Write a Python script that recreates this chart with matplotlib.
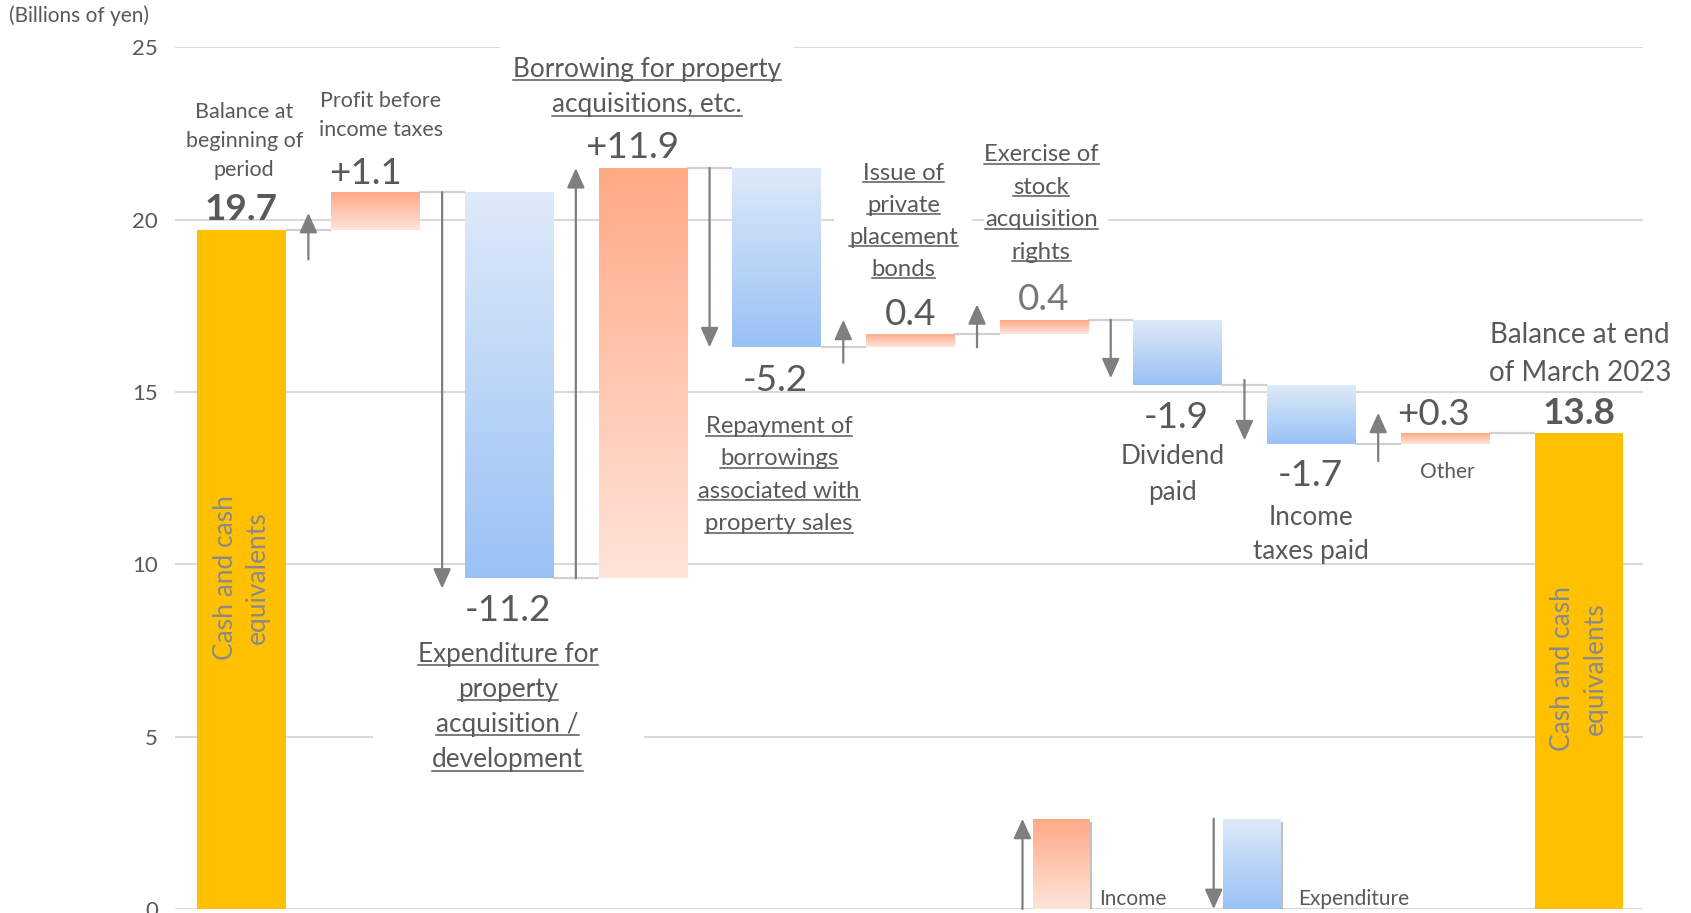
import numpy as np
import matplotlib
matplotlib.use('Agg')
import matplotlib.pyplot as plt
from matplotlib.colors import LinearSegmentedColormap
from matplotlib.patches import Rectangle
from matplotlib.lines import Line2D
import matplotlib.patheffects as pe

plt.rcParams['font.family'] = ['Lato', 'DejaVu Sans']

# --- data (billions of yen) ---
categories = ['Balance at\nbeginning of\nperiod',
              'Profit before\nincome taxes',
              'Expenditure for\nproperty\nacquisition /\ndevelopment',
              'Borrowing for property\nacquisitions, etc.',
              'Repayment of\nborrowings\nassociated with\nproperty sales',
              'Issue of\nprivate\nplacement\nbonds',
              'Exercise of\nstock\nacquisition\nrights',
              'Dividend\npaid',
              'Income\ntaxes paid',
              'Other',
              'Balance at end\nof March 2023']
changes = [19.7, 1.1, -11.2, 11.9, -5.2, 0.4, 0.4, -1.9, -1.7, 0.3, 13.8]
value_labels = ['19.7', '+1.1', '-11.2', '+11.9', '-5.2', '0.4', '0.4',
                '-1.9', '-1.7', '+0.3', '13.8']
is_total = [True, False, False, False, False, False, False, False, False, False, True]
underlined = [False, False, True, True, True, True, True, False, False, False, False]
# hand-drawn arrows between the bars (start level, end level)
arrow_start = [18.85, 20.8, 9.6, 21.5, 15.85, 16.3, 17.1, 15.35, 13.0]
arrow_end = [20.2, 9.3, 21.5, 16.3, 17.1, 17.55, 15.4, 13.6, 14.4]
y_ticks = [0, 5, 10, 15, 20, 25]
total_note = 'Cash and cash\nequivalents'
legend_names = ['Income', 'Expenditure']

# --- layout ---
value_pos = [(0.0, 20.38), (0.93, 21.44), (1.99, 8.75), (2.92, 22.19), (3.99, 15.41),
             (5.0, 17.34), (6.0, 17.78), (6.99, 14.34), (7.99, 12.66), (8.91, 14.44),
             (10.0, 14.47)]
label_pos = [(0.02, 23.19), (1.04, 23.5), (1.99, 7.47), (3.03, 24.44), (4.02, 14.06),
             (4.95, 21.41), (5.98, 21.94), (6.96, 13.19), (8.0, 11.44), (9.02, 12.75),
             (10.01, 16.72)]
label_step = [0.84, 0.84, 1.02, 1.03, 0.94, 0.93, 0.94, 1.03, 1.0, 1.0, 1.09]
label_size = [15.5, 15.5, 18.8, 18.8, 17.2, 17.2, 17.2, 18.8, 18.8, 15, 20]
# white boxes of the text frames that hide the gridlines
masks = [(0.98, 3.01, 3.6, 7.9), (1.93, 4.13, 23.0, 25.6),
         (4.43, 5.46, 18.3, 21.9), (5.55, 6.48, 18.7, 22.4)]
note_pos = [(0.0, 9.63), (10.0, 6.97)]

TEXT = '#595959'
ARROW = '#7f7f7f'
YELLOW = '#ffc000'
ORANGE = ('#ffe4da', '#ffa985')   # bottom, top
BLUE = ('#99c1f5', '#deeaf9')
W = 0.66

fig = plt.figure(figsize=(16.91, 9.13), dpi=100)
ax = fig.add_axes([0.1033, 0.0043, 0.8686, 0.9437])


def gradient_bar(x, bottom, height, colors, width=W, z=3):
    bar = ax.bar(x, height, width, bottom=bottom, color='none', edgecolor='none', zorder=z)[0]
    cmap = LinearSegmentedColormap.from_list('g', list(colors))
    grad = np.linspace(0, 1, 256).reshape(-1, 1)
    im = ax.imshow(grad, cmap=cmap, origin='lower', aspect='auto', zorder=z,
                   extent=[bar.get_x(), bar.get_x() + bar.get_width(),
                           bar.get_y(), bar.get_y() + bar.get_height()])
    im.set_clip_path(bar)
    return bar


x = np.arange(len(changes))
level = 0.0
ends = []
for i, (c, tot) in enumerate(zip(changes, is_total)):
    if tot:
        ax.bar(x[i], c, W, color=YELLOW, zorder=3)
        level = c
    else:
        start = level
        level = start + c
        if c > 0:
            gradient_bar(x[i], start, c, ORANGE)
        else:
            gradient_bar(x[i], level, -c, BLUE)
    ends.append(level)

# connectors
for i in range(len(changes) - 1):
    ax.plot([x[i] + W / 2, x[i + 1] - W / 2], [ends[i], ends[i]],
            color='#d0d0d0', lw=1.6, zorder=2, solid_capstyle='butt')

# arrows
for i, (a, b) in enumerate(zip(arrow_start, arrow_end)):
    ax.annotate('', xy=(x[i] + 0.5, b), xytext=(x[i] + 0.5, a),
                arrowprops=dict(arrowstyle='-|>,head_length=0.6,head_width=0.27',
                                mutation_scale=20, color=ARROW, lw=1.6,
                                shrinkA=0, shrinkB=0), zorder=4)

for x0, x1, y0, y1 in masks:
    ax.add_patch(Rectangle((x0, y0), x1 - x0, y1 - y0, color='white', zorder=0.8, lw=0))

# value labels
for i, (txt, (px, py)) in enumerate(zip(value_labels, value_pos)):
    col = '#787878' if i == 6 else TEXT
    ax.text(px, py, txt, ha='center', va='center_baseline', fontsize=26.6,
            color=col, fontweight='bold' if is_total[i] else 'normal', zorder=5)

# category labels (one text per line so that underlines can follow each line)
to_underline = []
for i, name in enumerate(categories):
    px, py = label_pos[i]
    for k, line in enumerate(name.split('\n')):
        t = ax.text(px, py - k * label_step[i], line, ha='center', va='center_baseline',
                    fontsize=label_size[i], color=TEXT, zorder=5)
        if underlined[i]:
            to_underline.append(t)

for px, py in note_pos:
    ax.text(px, py, total_note, rotation=90, ha='center', va='center', ma='center',
            fontsize=19, color='#8a8a8a', linespacing=1.37, zorder=5)

# legend
gradient_bar(6.13, 0, 2.62, ORANGE, width=0.42)
gradient_bar(7.555, 0, 2.62, BLUE, width=0.43)
for bx, bw in [(6.13, 0.42), (7.555, 0.43)]:
    ax.add_patch(Rectangle((bx - bw / 2, 0), bw, 2.62, facecolor='white', lw=0, zorder=2.5,
                           path_effects=[pe.SimplePatchShadow(offset=(2, -2), alpha=0.35),
                                         pe.Normal()]))
ax.annotate('', xy=(5.84, 2.62), xytext=(5.84, 0),
            arrowprops=dict(arrowstyle='-|>,head_length=0.6,head_width=0.27',
                            mutation_scale=20, color=ARROW, lw=1.6, shrinkA=0, shrinkB=0),
            zorder=4, annotation_clip=False)
ax.annotate('', xy=(7.27, 0), xytext=(7.27, 2.62),
            arrowprops=dict(arrowstyle='-|>,head_length=0.6,head_width=0.27',
                            mutation_scale=20, color=ARROW, lw=1.6, shrinkA=0, shrinkB=0),
            zorder=4, annotation_clip=False)
ax.text(6.41, 0.36, legend_names[0], ha='left', va='center_baseline', fontsize=15, color=TEXT)
ax.text(7.90, 0.36, legend_names[1], ha='left', va='center_baseline', fontsize=15, color=TEXT)

# axes styling
ax.set_xlim(-0.5, 10.484)
ax.set_ylim(0, 25)
ax.set_yticks(y_ticks)
ax.set_xticks([])
ax.tick_params(axis='y', length=0, pad=12, labelsize=16, labelcolor=TEXT)
for s in ax.spines.values():
    s.set_visible(False)
ax.set_axisbelow(True)
ax.grid(axis='y', color='#d9d9d9', lw=1.5)
fig.text(0.0051, 0.9823, '(Billions of yen)', ha='left', va='center', fontsize=15, color=TEXT)

# underlines
fig.canvas.draw()
renderer = fig.canvas.get_renderer()
inv = fig.transFigure.inverted()
for t in to_underline:
    bb = t.get_window_extent(renderer)
    (fx0, fy), (fx1, _) = inv.transform([(bb.x0, bb.y0 + 1.5), (bb.x1, bb.y0 + 1.5)])
    fig.add_artist(Line2D([fx0, fx1], [fy, fy], color=TEXT, lw=1.1))

fig.savefig('out.png', dpi=100)
